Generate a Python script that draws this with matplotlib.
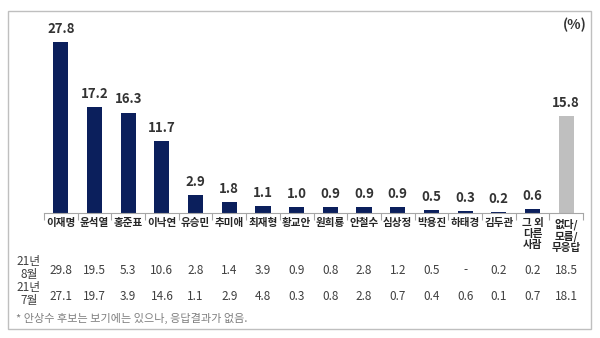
import matplotlib.pyplot as plt
import matplotlib.transforms as mtransforms
from matplotlib.patches import Rectangle

plt.rcParams['font.family'] = ['Noto Sans CJK KR', 'DejaVu Sans']

# 차기 대선 후보 선호도 (%)
names = ['이재명', '윤석열', '홍준표', '이낙연', '유승민', '추미애', '최재형', '황교안',
         '원희룡', '안철수', '심상정', '박용진', '하태경', '김두관', '그 외\n다른\n사람', '없다/\n모름/\n무응답']
current = [27.8, 17.2, 16.3, 11.7, 2.9, 1.8, 1.1, 1.0, 0.9, 0.9, 0.9, 0.5, 0.3, 0.2, 0.6, 15.8]
aug21 = ['29.8', '19.5', '5.3', '10.6', '2.8', '1.4', '3.9', '0.9', '0.8', '2.8', '1.2', '0.5', '-', '0.2', '0.2', '18.5']
jul21 = ['27.1', '19.7', '3.9', '14.6', '1.1', '2.9', '4.8', '0.3', '0.8', '2.8', '0.7', '0.4', '0.6', '0.1', '0.7', '18.1']
row_labels = ['21년\n8월', '21년\n7월']

W, H = 600, 338
fig = plt.figure(figsize=(6, 3.38), dpi=100)

# outer frame
fig.patches.append(Rectangle((8 / W, 1 - 329 / H), 583 / W, 318 / H, transform=fig.transFigure,
                             fill=False, edgecolor='#bfbfbf', linewidth=1.0))

ax = fig.add_axes([44 / W, 1 - 213 / H, 539 / W, 202 / H])
x = list(range(len(names)))
colors = ['#0b1f5c'] * (len(names) - 1) + ['#bfbfbf']
ax.bar(x, current, width=0.45, color=colors)
ax.set_xlim(-0.5, len(names) - 0.5)
ax.set_ylim(0, 32.8)

for xi, v in zip(x, current):
    ax.text(xi, v + 1.0, f'{v:.1f}', ha='center', va='bottom', fontsize=9.5,
            fontweight='bold', color='#333333')

for s in ['top', 'right', 'left']:
    ax.spines[s].set_visible(False)
ax.spines['bottom'].set_color('#a6a6a6')
ax.set_yticks([])
ax.set_xticks([i - 0.5 for i in range(len(names) + 1)], minor=False)
ax.set_xticklabels([])
ax.tick_params(axis='x', length=5, color='#a6a6a6', width=0.8)

ax.text(len(names) - 0.75, 30.6, '(%)', ha='center', va='center', fontsize=10,
        fontweight='bold', color='#333333')

# category names and table rows under the axis
trans = mtransforms.blended_transform_factory(ax.transData, fig.transFigure)
for xi, name in zip(x, names):
    ax.text(xi, 1 - 218 / H, name, transform=trans, ha='center', va='top', fontsize=7.6,
            fontweight='bold', color='#262626', linespacing=1.1)
    ax.text(xi, 1 - 270 / H, aug21[xi], transform=trans, ha='center', va='center',
            fontsize=8.5, color='#404040')
    ax.text(xi, 1 - 296 / H, jul21[xi], transform=trans, ha='center', va='center',
            fontsize=8.5, color='#404040')

fig.text(29 / W, 1 - 268 / H, row_labels[0], ha='center', va='center', fontsize=8.5,
         color='#404040', linespacing=0.95)
fig.text(29 / W, 1 - 294 / H, row_labels[1], ha='center', va='center', fontsize=8.5,
         color='#404040', linespacing=0.95)

fig.text(16 / W, 1 - 318 / H, '* 안상수 후보는 보기에는 있으나, 응답결과가 없음.', ha='left',
         va='center', fontsize=8, color='#7f7f7f')

fig.savefig('out.png', dpi=100)
